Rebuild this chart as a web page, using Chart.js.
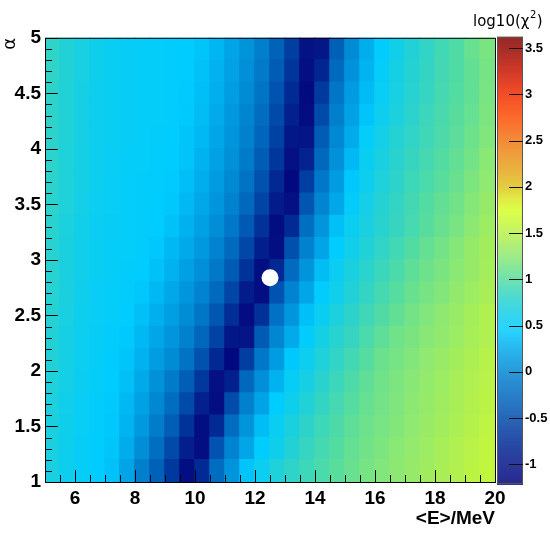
<!DOCTYPE html>
<html>
<head>
<meta charset="utf-8">
<script src="https://cdn.jsdelivr.net/npm/chart.js@4.4.1/dist/chart.umd.min.js"></script>
<style>
  html, body { margin: 0; padding: 0; background: #fff; }
</style>
</head>
<body>
<canvas id="chart" width="550" height="537"></canvas>
<script>
// bin edges of the scan
var eEdges = [5, 5.5, 6, 6.5, 7, 7.5, 8, 8.5, 9, 9.5, 10, 10.5, 11, 11.5, 12, 12.5, 13, 13.5, 14, 14.5, 15, 15.5, 16, 16.5, 17, 17.5, 18, 18.5, 19, 19.5, 20];
var alphaEdges = [1, 1.2, 1.4, 1.6, 1.8, 2, 2.2, 2.4, 2.6, 2.8, 3, 3.2, 3.4, 3.6, 3.8, 4, 4.2, 4.4, 4.6, 4.8, 5];

// log10(chi2), one row per alpha bin (name = lower edge), one value per <E> bin
var alpha100 = [0.66, 0.58, 0.51, 0.45, 0.39, 0.21, -0.07, -0.32, -0.65, -1.08, -0.78, -0.22, 0.09, 0.40, 0.57, 0.70, 0.81, 0.88, 0.95, 1.02, 1.09, 1.15, 1.20, 1.25, 1.31, 1.36, 1.41, 1.46, 1.52, 1.57];
var alpha120 = [0.67, 0.59, 0.52, 0.46, 0.41, 0.26, 0.05, -0.21, -0.50, -0.90, -1.07, -0.43, -0.03, 0.22, 0.46, 0.60, 0.73, 0.84, 0.92, 0.99, 1.07, 1.13, 1.18, 1.24, 1.29, 1.34, 1.40, 1.45, 1.50, 1.56];
var alpha140 = [0.68, 0.60, 0.53, 0.47, 0.42, 0.31, 0.12, -0.09, -0.34, -0.70, -1.08, -0.78, -0.22, 0.09, 0.36, 0.55, 0.68, 0.80, 0.88, 0.96, 1.04, 1.11, 1.16, 1.21, 1.27, 1.32, 1.37, 1.43, 1.48, 1.54];
var alpha160 = [0.69, 0.61, 0.54, 0.48, 0.43, 0.34, 0.19, 0.01, -0.22, -0.51, -0.88, -1.08, -0.49, -0.06, 0.20, 0.46, 0.60, 0.72, 0.83, 0.92, 1.00, 1.08, 1.14, 1.19, 1.25, 1.30, 1.35, 1.41, 1.46, 1.52];
var alpha180 = [0.71, 0.63, 0.56, 0.50, 0.45, 0.38, 0.24, 0.07, -0.10, -0.34, -0.66, -1.05, -0.87, -0.26, 0.06, 0.30, 0.52, 0.65, 0.77, 0.87, 0.96, 1.05, 1.12, 1.18, 1.23, 1.29, 1.34, 1.40, 1.45, 1.50];
var alpha200 = [0.72, 0.64, 0.57, 0.51, 0.46, 0.41, 0.30, 0.16, 0.03, -0.17, -0.44, -0.80, -1.15, -0.61, -0.13, 0.15, 0.42, 0.58, 0.70, 0.82, 0.91, 1.00, 1.10, 1.15, 1.21, 1.27, 1.32, 1.38, 1.43, 1.49];
var alpha220 = [0.73, 0.65, 0.58, 0.52, 0.47, 0.43, 0.34, 0.22, 0.10, -0.05, -0.27, -0.57, -0.97, -1.00, -0.37, 0.00, 0.25, 0.48, 0.64, 0.76, 0.85, 0.95, 1.04, 1.12, 1.17, 1.23, 1.28, 1.34, 1.40, 1.45];
var alpha240 = [0.74, 0.66, 0.59, 0.53, 0.49, 0.45, 0.38, 0.28, 0.17, 0.04, -0.14, -0.40, -0.74, -1.10, -0.72, -0.18, 0.11, 0.38, 0.56, 0.69, 0.80, 0.89, 0.98, 1.06, 1.14, 1.20, 1.26, 1.32, 1.39, 1.45];
var alpha260 = [0.75, 0.67, 0.60, 0.54, 0.50, 0.47, 0.42, 0.34, 0.23, 0.11, -0.03, -0.24, -0.54, -0.92, -1.07, -0.43, -0.03, 0.22, 0.47, 0.61, 0.72, 0.83, 0.92, 1.00, 1.09, 1.15, 1.21, 1.28, 1.34, 1.41];
var alpha280 = [0.76, 0.68, 0.61, 0.55, 0.51, 0.48, 0.45, 0.39, 0.30, 0.18, 0.06, -0.12, -0.37, -0.70, -1.07, -0.80, -0.23, 0.09, 0.36, 0.56, 0.68, 0.78, 0.87, 0.95, 1.04, 1.11, 1.17, 1.24, 1.31, 1.39];
var alpha300 = [0.76, 0.68, 0.61, 0.55, 0.51, 0.49, 0.47, 0.42, 0.34, 0.24, 0.12, -0.03, -0.24, -0.53, -0.90, -1.07, -0.46, -0.04, 0.21, 0.45, 0.61, 0.72, 0.82, 0.90, 0.99, 1.07, 1.14, 1.22, 1.30, 1.38];
var alpha320 = [0.77, 0.69, 0.62, 0.56, 0.52, 0.49, 0.48, 0.45, 0.39, 0.29, 0.18, 0.05, -0.13, -0.38, -0.71, -1.09, -0.77, -0.21, 0.10, 0.38, 0.56, 0.67, 0.77, 0.85, 0.93, 1.01, 1.09, 1.16, 1.25, 1.34];
var alpha340 = [0.78, 0.70, 0.63, 0.57, 0.53, 0.50, 0.48, 0.46, 0.42, 0.34, 0.23, 0.11, -0.04, -0.26, -0.55, -0.93, -1.05, -0.41, -0.02, 0.23, 0.48, 0.63, 0.74, 0.83, 0.91, 0.99, 1.06, 1.13, 1.22, 1.31];
var alpha360 = [0.79, 0.71, 0.64, 0.58, 0.53, 0.50, 0.48, 0.47, 0.44, 0.37, 0.27, 0.15, 0.02, -0.17, -0.44, -0.80, -1.15, -0.61, -0.13, 0.15, 0.42, 0.58, 0.70, 0.80, 0.88, 0.95, 1.02, 1.09, 1.18, 1.27];
var alpha380 = [0.79, 0.71, 0.64, 0.58, 0.54, 0.51, 0.49, 0.47, 0.45, 0.40, 0.30, 0.19, 0.07, -0.10, -0.35, -0.67, -1.05, -0.85, -0.25, 0.07, 0.34, 0.55, 0.66, 0.77, 0.85, 0.92, 0.99, 1.06, 1.14, 1.24];
var alpha400 = [0.80, 0.72, 0.65, 0.59, 0.55, 0.52, 0.50, 0.48, 0.46, 0.41, 0.33, 0.22, 0.10, -0.05, -0.28, -0.58, -0.97, -1.00, -0.36, 0.01, 0.25, 0.50, 0.63, 0.74, 0.82, 0.89, 0.96, 1.03, 1.11, 1.20];
var alpha420 = [0.80, 0.72, 0.65, 0.59, 0.55, 0.52, 0.50, 0.49, 0.47, 0.43, 0.36, 0.25, 0.13, -0.01, -0.22, -0.50, -0.87, -1.10, -0.50, -0.07, 0.19, 0.40, 0.58, 0.69, 0.79, 0.87, 0.94, 1.01, 1.08, 1.18];
var alpha440 = [0.80, 0.72, 0.65, 0.59, 0.55, 0.52, 0.50, 0.49, 0.47, 0.44, 0.37, 0.28, 0.16, 0.03, -0.16, -0.43, -0.78, -1.13, -0.64, -0.14, 0.14, 0.35, 0.53, 0.66, 0.76, 0.84, 0.92, 0.99, 1.06, 1.16];
var alpha460 = [0.81, 0.73, 0.66, 0.60, 0.55, 0.52, 0.50, 0.49, 0.47, 0.45, 0.39, 0.30, 0.19, 0.06, -0.11, -0.36, -0.68, -1.06, -0.82, -0.24, 0.08, 0.31, 0.50, 0.64, 0.74, 0.83, 0.91, 0.98, 1.06, 1.15];
var alpha480 = [0.81, 0.73, 0.66, 0.60, 0.55, 0.52, 0.50, 0.49, 0.47, 0.45, 0.41, 0.32, 0.21, 0.09, -0.07, -0.30, -0.60, -1.02, -0.98, -0.33, 0.03, 0.27, 0.47, 0.62, 0.73, 0.82, 0.90, 0.97, 1.08, 1.17];

// best fit point
var bestE = [12.5];
var bestAlpha = [2.84];

// colour axis range
var zMin = -1.19;
var zMax = 3.61;

// palette (value -> rgb)
var paletteStops = [
  [-1.25, 0, 0, 122], [-1.0, 5, 20, 135], [-0.75, 0, 45, 150], [-0.5, 0, 75, 170],
  [-0.25, 0, 105, 190], [0.0, 0, 135, 210], [0.25, 0, 170, 235], [0.45, 0, 204, 255],
  [0.6, 15, 206, 236], [0.8, 45, 211, 202], [1.0, 85, 220, 160], [1.25, 140, 232, 115],
  [1.5, 185, 242, 72], [1.75, 215, 255, 40], [1.9, 220, 225, 35], [2.0, 222, 195, 30],
  [2.25, 232, 155, 28], [2.5, 242, 118, 20], [2.75, 252, 78, 5], [3.0, 242, 45, 0],
  [3.25, 200, 22, 0], [3.5, 150, 6, 0], [3.7, 115, 0, 0]
];

function paletteColor(v) {
  var s = paletteStops;
  if (v <= s[0][0]) return 'rgb(' + s[0][1] + ',' + s[0][2] + ',' + s[0][3] + ')';
  for (var i = 1; i < s.length; i++) {
    if (v <= s[i][0]) {
      var t = (v - s[i - 1][0]) / (s[i][0] - s[i - 1][0]);
      var c = [1, 2, 3].map(function (k) { return Math.round(s[i - 1][k] + t * (s[i][k] - s[i - 1][k])); });
      return 'rgb(' + c.join(',') + ')';
    }
  }
  var l = s[s.length - 1];
  return 'rgb(' + l[1] + ',' + l[2] + ',' + l[3] + ')';
}

var rows = [alpha100, alpha120, alpha140, alpha160, alpha180, alpha200, alpha220, alpha240, alpha260, alpha280,
            alpha300, alpha320, alpha340, alpha360, alpha380, alpha400, alpha420, alpha440, alpha460, alpha480];

var datasets = [{
  type: 'scatter',
  data: bestE.map(function (e, i) { return { x: e, y: bestAlpha[i] }; }),
  pointRadius: 8.5,
  pointBackgroundColor: '#ffffff',
  pointBorderWidth: 0,
  order: -1
}];

rows.forEach(function (vals, r) {
  datasets.push({
    type: 'bar',
    data: vals.map(function (v, c) {
      return { x: (eEdges[c] + eEdges[c + 1]) / 2, y: [alphaEdges[r], alphaEdges[r + 1]] };
    }),
    backgroundColor: vals.map(paletteColor),
    borderWidth: 0,
    inflateAmount: 0.8, // hide antialiasing seams between cells
    grouped: false,
    categoryPercentage: 1,
    barPercentage: 1,
    order: 1
  });
});

var tickFont = { family: "'Liberation Sans', Arial, sans-serif", weight: 'bold', size: 19 };

// ROOT style: ticks inside the frame, frame box, colour bar
var rootFrame = {
  id: 'rootFrame',
  afterDatasetsDraw: function (chart) {
    var ctx = chart.ctx, a = chart.chartArea;
    var x = chart.scales.x, y = chart.scales.y, z = chart.scales.z;
    ctx.save();
    ctx.strokeStyle = '#000';
    ctx.lineWidth = 1;
    ctx.beginPath();
    for (var i = 0; i <= 30; i++) {
      var ev = 5 + i * 0.5;
      var px = Math.round(x.getPixelForValue(ev)) + 0.5;
      var len = (i % 4 === 2) ? 12 : 7;
      ctx.moveTo(px, a.bottom);
      ctx.lineTo(px, a.bottom - len);
    }
    for (var j = 0; j <= 40; j++) {
      var av = 1 + j * 0.1;
      var py = Math.round(y.getPixelForValue(av)) + 0.5;
      var l2 = (j % 5 === 0) ? 13 : 7;
      ctx.moveTo(a.left, py);
      ctx.lineTo(a.left + l2, py);
    }
    ctx.stroke();
    ctx.strokeRect(a.left + 0.5, a.top + 0.5, a.right - a.left, a.bottom - a.top);

    // colour bar
    var bx = 497, bw = 26;
    for (var p = a.top - 1; p < a.bottom + 2; p++) {
      ctx.fillStyle = paletteColor(z.getValueForPixel(p + 0.5));
      ctx.fillRect(bx, p, bw, 1);
    }
    ctx.strokeStyle = '#555';
    ctx.strokeRect(bx + 0.5, a.top - 0.5, bw - 1, a.bottom - a.top + 2);
    ctx.strokeStyle = '#111';
    ctx.beginPath();
    z.ticks.forEach(function (t) {
      var ty = Math.round(z.getPixelForValue(t.value)) + 0.5;
      ctx.moveTo(bx + bw - 14, ty);
      ctx.lineTo(bx + bw, ty);
    });
    ctx.stroke();

    // colour bar title log10(chi^2)
    ctx.fillStyle = '#000';
    ctx.textBaseline = 'alphabetic';
    ctx.textAlign = 'left';
    ctx.font = "15px 'DejaVu Sans', sans-serif";
    var tx = 473, ty0 = 26;
    var part1 = 'log10(\u03c7';
    ctx.fillText(part1, tx, ty0);
    tx += ctx.measureText(part1).width;
    ctx.font = "10px 'DejaVu Sans', sans-serif";
    ctx.fillText('2', tx + 0.5, ty0 - 8);
    tx += ctx.measureText('2').width + 1;
    ctx.font = "15px 'DejaVu Sans', sans-serif";
    ctx.fillText(')', tx, ty0);
    ctx.restore();
  }
};

new Chart(document.getElementById('chart'), {
  type: 'bar',
  data: { datasets: datasets },
  plugins: [rootFrame],
  options: {
    responsive: false,
    animation: false,
    events: [],
    layout: { padding: { top: 33, left: 0, right: 0, bottom: 0 } },
    plugins: { legend: { display: false }, tooltip: { enabled: false } },
    scales: {
      x: {
        type: 'linear', position: 'bottom', min: 5, max: 20, offset: false,
        grid: { display: false, drawTicks: false, offset: false },
        border: { display: false },
        ticks: { stepSize: 2, includeBounds: false, autoSkip: false, maxRotation: 0, padding: 5, color: '#000', font: tickFont },
        title: { display: true, text: '<E>/MeV', align: 'end', color: '#000', font: tickFont, padding: { top: 0, bottom: 7 } },
        afterFit: function (s) { s.height = 55; }
      },
      y: {
        type: 'linear', position: 'left', min: 1, max: 5,
        grid: { display: false, drawTicks: false },
        border: { display: false },
        ticks: { stepSize: 0.5, autoSkip: false, padding: 4, color: '#000', font: tickFont,
                 callback: function (v) { return String(Math.round(v * 10) / 10); } },
        title: { display: true, text: '\u03b1', align: 'end', color: '#000',
                 font: { family: "'DejaVu Sans', sans-serif", size: 18 }, padding: 0 },
        afterFit: function (s) { s.width = 45; }
      },
      z: {
        type: 'linear', position: 'right', axis: 'y', min: zMin, max: zMax,
        grid: { display: false, drawTicks: false },
        border: { display: false },
        ticks: { stepSize: 0.5, includeBounds: false, autoSkip: false, padding: 30, color: '#000',
                 font: { family: "'Liberation Sans', Arial, sans-serif", weight: 'bold', size: 13 },
                 callback: function (v) { return String(Math.round(v * 10) / 10); } },
        afterFit: function (s) { s.width = 55; }
      }
    }
  }
});
</script>
</body>
</html>
